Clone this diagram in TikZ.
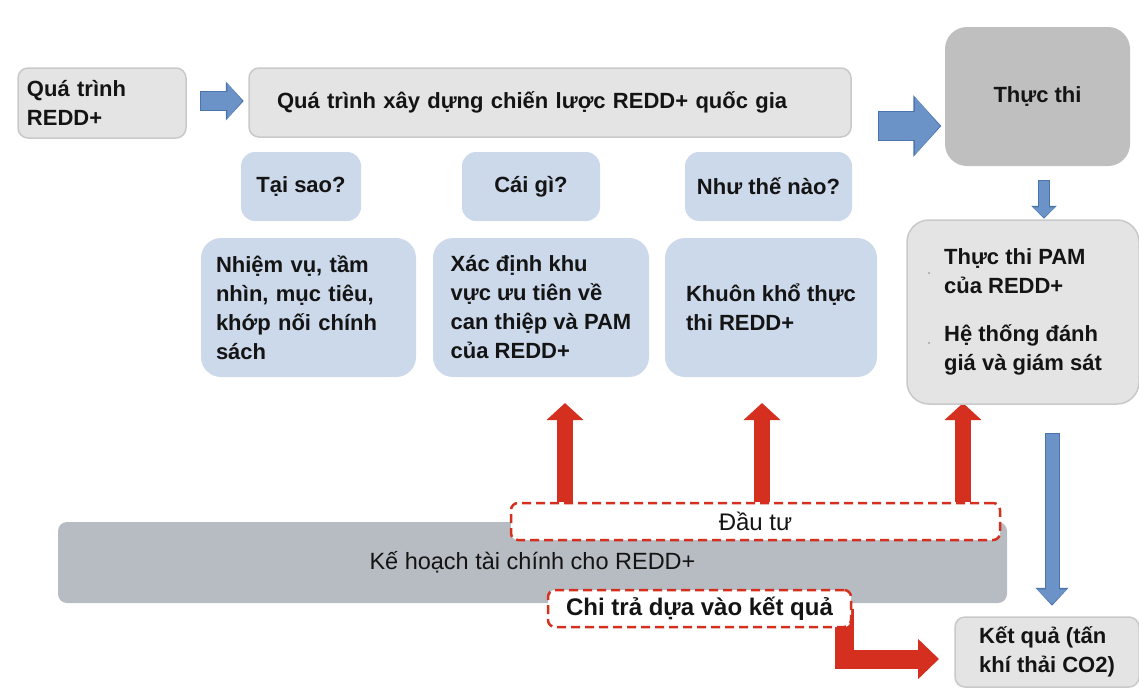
\documentclass[tikz,border=0pt]{standalone}
\usepackage{fontspec}
\setmainfont{Liberation Sans}
\usetikzlibrary{arrows.meta,backgrounds}
\definecolor{boxgray}{HTML}{E4E4E4}
\definecolor{boxedge}{HTML}{C9C9C9}
\definecolor{stepgray}{HTML}{BFBFBF}
\definecolor{paleblue}{HTML}{CCD9EB}
\definecolor{plangray}{HTML}{B7BCC2}
\definecolor{arrowblue}{HTML}{6B93C8}
\definecolor{arrowedge}{HTML}{4A74AA}
\definecolor{arrowred}{HTML}{D5301F}
\definecolor{ink}{HTML}{141414}
\begin{document}
\begin{tikzpicture}[x=1pt,y=-1pt,
  txt/.style={font=\bfseries\fontsize{22}{29}\selectfont, text=ink},
  greybox/.style={txt, fill=boxgray, draw=boxedge, line width=1.5pt, rounded corners=10pt, inner sep=0pt},
  bluebox/.style={txt, fill=paleblue, rounded corners=14pt, inner sep=0pt},
  dashbox/.style={txt, fill=white, draw=arrowred, line width=2.5pt, dash pattern=on 9pt off 5pt, rounded corners=7pt, inner sep=0pt},
  redarrow/.style={draw=arrowred, line width=16pt, -{Triangle[width=36pt,length=17pt]}},
]
\useasboundingbox (0,0) rectangle (1139,697);

% top row
\node[greybox, minimum width=168pt, minimum height=70pt, text width=150pt, inner xsep=9pt, align=left]
  (q) at (102,103) {Quá trình\\REDD+};
\node[greybox, minimum width=602pt, minimum height=69pt, text width=546pt, inner xsep=28pt, align=left]
  (top) at (550,102.5) {Quá trình xây dựng chiến lược REDD+ quốc gia};
\node[txt, fill=stepgray, rounded corners=22pt, minimum width=185pt, minimum height=139pt, inner sep=0pt]
  (tt) at (1037.5,96.5) {Thực thi};

% questions
\node[bluebox, minimum width=120pt, minimum height=69pt] (why) at (301,186.5) {Tại sao?};
\node[bluebox, minimum width=138pt, minimum height=69pt] (what) at (531,186.5) {Cái gì?};
\node[bluebox, minimum width=167pt, minimum height=69pt] (how) at (768.5,186.5) {Như thế nào?};

% answers
\node[bluebox, rounded corners=20pt, minimum width=215pt, minimum height=139pt, text width=185pt, inner xsep=15pt, align=left]
  (b1) at (308.5,307.5) {Nhiệm vụ, tầm\\nhìn, mục tiêu,\\khớp nối chính\\sách};
\node[bluebox, rounded corners=20pt, minimum width=216pt, minimum height=139pt, align=left]
  (b2) at (541,307.5) {Xác định khu\\vực ưu tiên về\\can thiệp và PAM\\của REDD+};
\node[bluebox, rounded corners=20pt, minimum width=212pt, minimum height=139pt, align=left]
  (b3) at (771,307.5) {Khuôn khổ thực\\thi REDD+};

% implementation details
\node[greybox, rounded corners=22pt, minimum width=232pt, minimum height=184pt, align=left]
  (pam) at (1023,312) {Thực thi PAM\\của REDD+\\[19pt]Hệ thống đánh\\giá và giám sát};
\fill[gray!70] (929,273) circle (1.1pt) (929,343) circle (1.1pt);

% finance
\node[txt, font=\fontsize{23.5}{29}\selectfont, fill=plangray, rounded corners=9pt, minimum width=949pt, minimum height=81pt, inner sep=0pt]
  (plan) at (532.5,562.5) {Kế hoạch tài chính cho REDD+};
\node[dashbox, font=\fontsize{24}{29}\selectfont, minimum width=489pt, minimum height=37pt] (dau) at (755.5,521.5) {Đầu tư};
\node[dashbox, font=\bfseries\fontsize{24}{29}\selectfont, minimum width=303pt, minimum height=37pt] (chi) at (699.5,608.5) {Chi trả dựa vào kết quả};
\node[greybox, minimum width=184pt, minimum height=70pt, align=left] (kq) at (1047,652) {Kết quả (tấn\\khí thải CO2)};

% blue flow arrows, each with a darker rim
\draw[line width=18pt, draw=arrowblue, shorten <=14pt, shorten >=6pt, -{Triangle[width=35pt,length=15pt]},
  preaction={draw=arrowedge, line width=20pt, shorten <=13pt, shorten >=4.5pt, -{Triangle[width=38pt,length=18pt]}}]
  (q.east |- 0,101) -- (top.west |- 0,101);
\draw[line width=28pt, draw=arrowblue, shorten <=27pt, shorten >=5pt, -{Triangle[width=57pt,length=25pt]},
  preaction={draw=arrowedge, line width=30pt, shorten <=26pt, shorten >=3.5pt, -{Triangle[width=60pt,length=28pt]}}]
  (top.east |- 0,126) -- (tt.west |- 0,126);
\draw[line width=10pt, draw=arrowblue, shorten <=15pt, shorten >=2pt, -{Triangle[width=22pt,length=10pt]},
  preaction={draw=arrowedge, line width=12pt, shorten <=14pt, shorten >=0.5pt, -{Triangle[width=25pt,length=13pt]}}]
  (1044,0 |- tt.south) -- (1044,0 |- pam.north);
\draw[line width=13pt, draw=arrowblue, shorten <=29pt, shorten >=12pt, -{Triangle[width=29pt,length=15pt]},
  preaction={draw=arrowedge, line width=15pt, shorten <=28pt, shorten >=10.5pt, -{Triangle[width=32pt,length=18pt]}}]
  (1052,0 |- pam.south) -- (1052,0 |- kq.north);

% red investment and payment arrows
\coordinate (t1) at (565,403);
\coordinate (t2) at (762,403);
\coordinate (t3) at (963,403);
\coordinate (ktip) at (939,659);
\begin{scope}[on background layer]
  \draw[redarrow] (t1 |- dau.north) -- (t1);
  \draw[redarrow] (t2 |- dau.north) -- (t2);
  \draw[redarrow] (t3 |- dau.north) -- (t3);
  \draw[draw=arrowred, line width=19pt, line join=miter, -{Triangle[width=39pt,length=21pt]}]
    (844,0 |- chi.center) |- (ktip);
\end{scope}
\end{tikzpicture}
\end{document}
